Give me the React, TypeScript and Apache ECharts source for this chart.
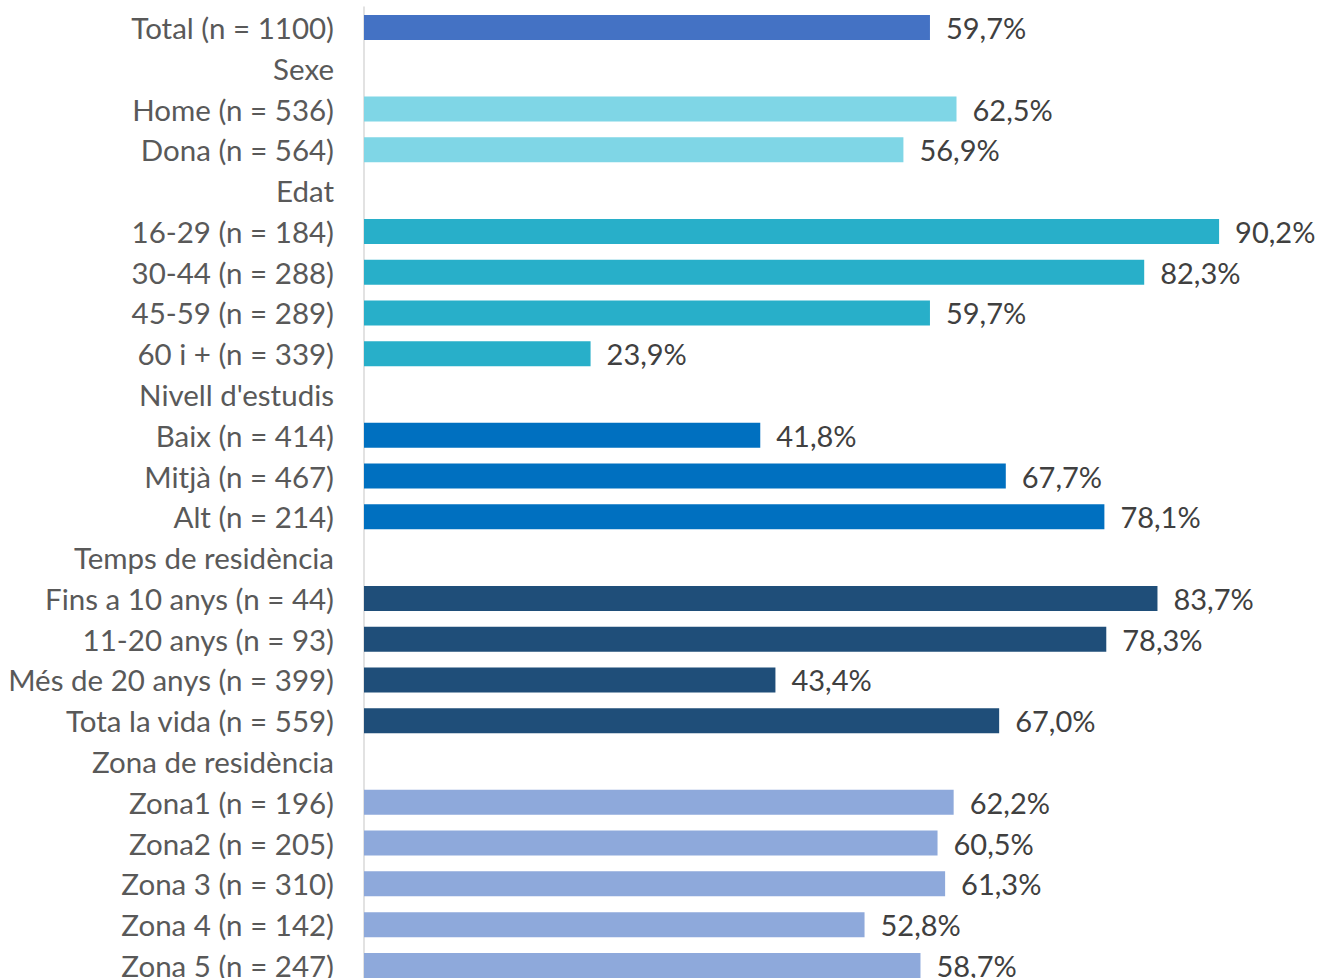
import React, { useEffect, useRef } from "react";
import * as echarts from "echarts";

const categories = [
  "Total (n = 1100)",
  "Sexe",
  "Home (n = 536)",
  "Dona (n = 564)",
  "Edat",
  "16-29 (n = 184)",
  "30-44 (n = 288)",
  "45-59 (n = 289)",
  "60 i + (n = 339)",
  "Nivell d'estudis",
  "Baix (n = 414)",
  "Mitjà (n = 467)",
  "Alt (n = 214)",
  "Temps de residència",
  "Fins a 10 anys (n = 44)",
  "11-20 anys (n = 93)",
  "Més de 20 anys (n = 399)",
  "Tota la vida (n = 559)",
  "Zona de residència",
  "Zona1 (n = 196)",
  "Zona2 (n = 205)",
  "Zona 3 (n = 310)",
  "Zona 4 (n = 142)",
  "Zona 5 (n = 247)",
];

const values: (number | null)[] = [
  59.7,
  null, 62.5, 56.9,
  null, 90.2, 82.3, 59.7, 23.9,
  null, 41.8, 67.7, 78.1,
  null, 83.7, 78.3, 43.4, 67.0,
  null, 62.2, 60.5, 61.3, 52.8, 58.7,
];

const groupOf = [
  "total",
  "sexe", "sexe", "sexe",
  "edat", "edat", "edat", "edat", "edat",
  "estudis", "estudis", "estudis", "estudis",
  "temps", "temps", "temps", "temps", "temps",
  "zona", "zona", "zona", "zona", "zona", "zona",
];

const groupColors: Record<string, string> = {
  total: "#4472C4",
  sexe: "#7FD6E6",
  edat: "#28AFC9",
  estudis: "#0070C0",
  temps: "#1F4E79",
  zona: "#8EA9DB",
};

const FONT = "Lato";

export default function App() {
  const ref = useRef<HTMLDivElement>(null);
  useEffect(() => {
    if (!ref.current) return;
    const chart = echarts.init(ref.current, null, { renderer: "svg" });
    chart.setOption({
      animation: false,
      backgroundColor: "#ffffff",
      grid: { left: 364, top: 7.1, width: 948, height: 978.7 },
      xAxis: {
        type: "value",
        min: 0,
        max: 100,
        show: false,
      },
      yAxis: {
        type: "category",
        inverse: true,
        data: categories,
        axisLine: { show: true, lineStyle: { color: "#D9D9D9", width: 1.5 } },
        axisTick: { show: false },
        axisLabel: {
          color: "#595959",
          fontFamily: FONT,
          fontSize: 29.5,
          margin: 30,
        },
      },
      series: [
        {
          type: "bar",
          barWidth: 25,
          data: values.map((v, i) => ({
            value: v,
            itemStyle: { color: groupColors[groupOf[i]] },
          })),
          label: {
            show: true,
            position: "right",
            distance: 16,
            color: "#404040",
            fontFamily: FONT,
            fontSize: 29,
            formatter: (p: any) =>
              p.value == null ? "" : Number(p.value).toFixed(1).replace(".", ",") + "%",
          },
        },
      ],
    });
    return () => chart.dispose();
  }, []);
  return (
    <div
      style={{
        position: "absolute",
        left: 0,
        top: 0,
        width: 1317,
        height: 978,
        overflow: "hidden",
      }}
    >
      <div ref={ref} style={{ width: 1317, height: 992 }} />
    </div>
  );
}
